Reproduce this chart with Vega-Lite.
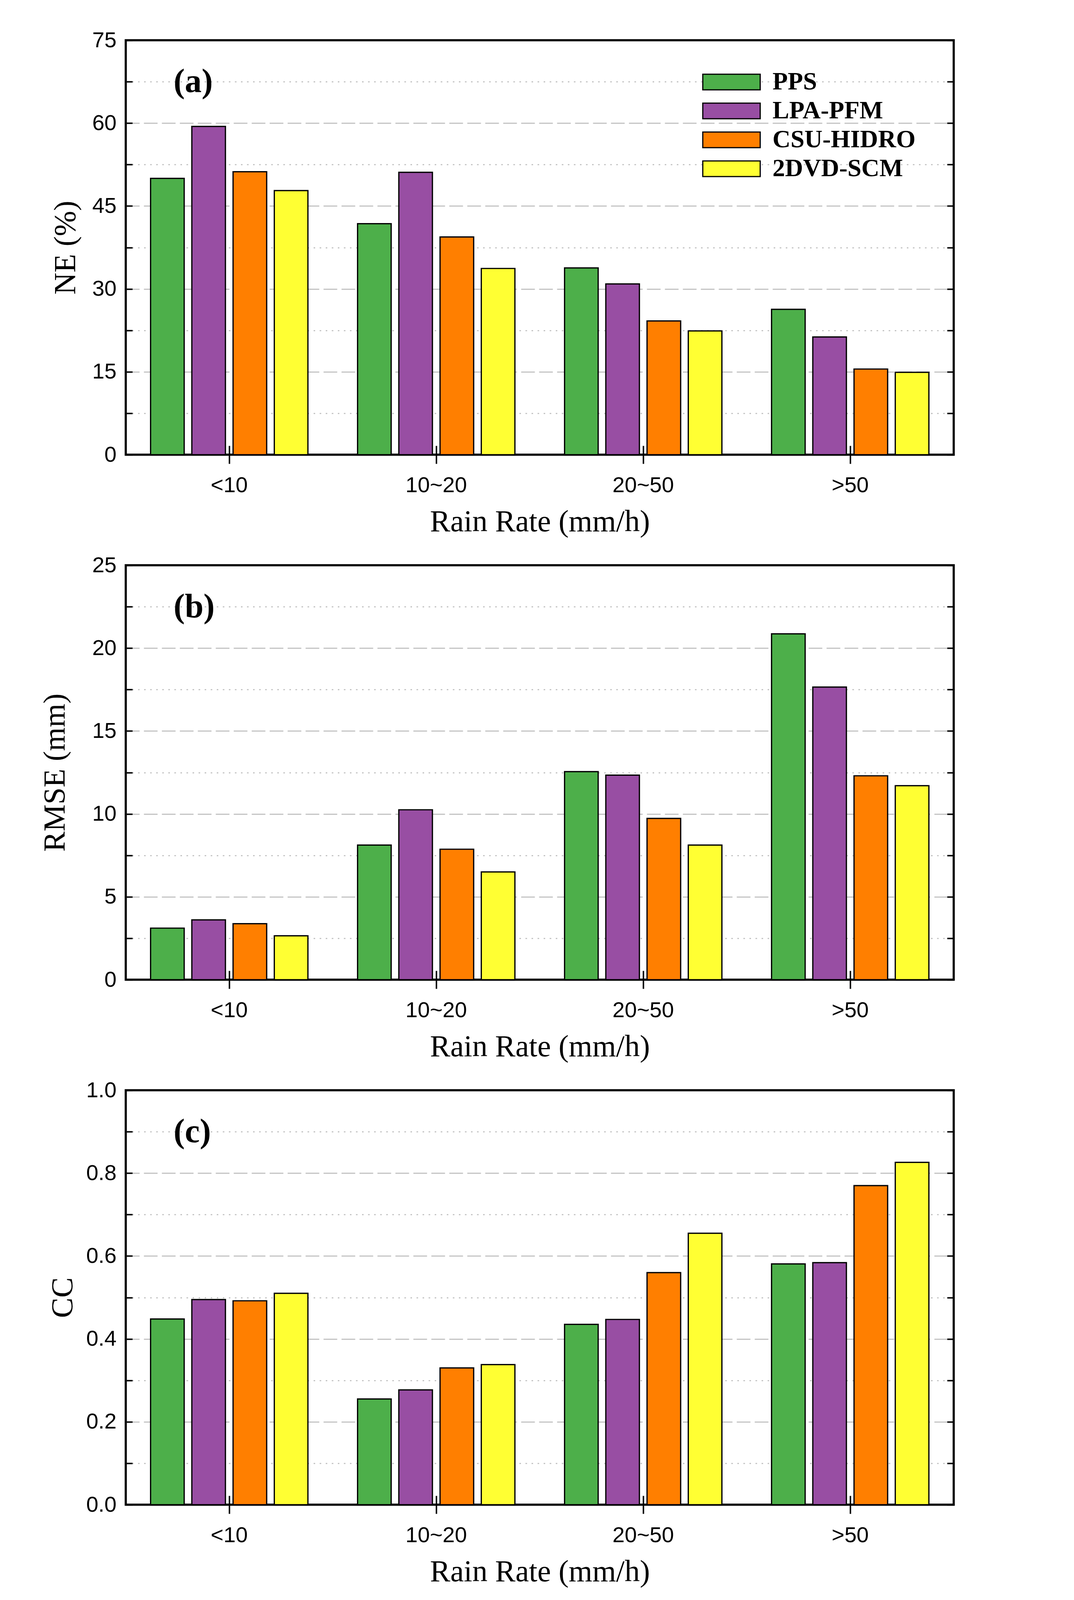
{
  "$schema": "https://vega.github.io/schema/vega-lite/v6.json",
  "padding": {"left": 99, "top": 72, "right": 20, "bottom": 20},
  "background": "white",
  "datasets": {
    "ne": [
      {"cat": "<10", "method": "PPS", "value": 50.0},
      {"cat": "<10", "method": "LPA-PFM", "value": 59.4},
      {"cat": "<10", "method": "CSU-HIDRO", "value": 51.2},
      {"cat": "<10", "method": "2DVD-SCM", "value": 47.8},
      {"cat": "10~20", "method": "PPS", "value": 41.8},
      {"cat": "10~20", "method": "LPA-PFM", "value": 51.1},
      {"cat": "10~20", "method": "CSU-HIDRO", "value": 39.4},
      {"cat": "10~20", "method": "2DVD-SCM", "value": 33.7},
      {"cat": "20~50", "method": "PPS", "value": 33.8},
      {"cat": "20~50", "method": "LPA-PFM", "value": 30.9},
      {"cat": "20~50", "method": "CSU-HIDRO", "value": 24.2},
      {"cat": "20~50", "method": "2DVD-SCM", "value": 22.4},
      {"cat": ">50", "method": "PPS", "value": 26.3},
      {"cat": ">50", "method": "LPA-PFM", "value": 21.3},
      {"cat": ">50", "method": "CSU-HIDRO", "value": 15.5},
      {"cat": ">50", "method": "2DVD-SCM", "value": 14.9}
    ],
    "rmse": [
      {"cat": "<10", "method": "PPS", "value": 3.11},
      {"cat": "<10", "method": "LPA-PFM", "value": 3.61},
      {"cat": "<10", "method": "CSU-HIDRO", "value": 3.38},
      {"cat": "<10", "method": "2DVD-SCM", "value": 2.65},
      {"cat": "10~20", "method": "PPS", "value": 8.12},
      {"cat": "10~20", "method": "LPA-PFM", "value": 10.25},
      {"cat": "10~20", "method": "CSU-HIDRO", "value": 7.87},
      {"cat": "10~20", "method": "2DVD-SCM", "value": 6.5},
      {"cat": "20~50", "method": "PPS", "value": 12.55},
      {"cat": "20~50", "method": "LPA-PFM", "value": 12.34},
      {"cat": "20~50", "method": "CSU-HIDRO", "value": 9.73},
      {"cat": "20~50", "method": "2DVD-SCM", "value": 8.12},
      {"cat": ">50", "method": "PPS", "value": 20.86},
      {"cat": ">50", "method": "LPA-PFM", "value": 17.65},
      {"cat": ">50", "method": "CSU-HIDRO", "value": 12.3},
      {"cat": ">50", "method": "2DVD-SCM", "value": 11.7}
    ],
    "cc": [
      {"cat": "<10", "method": "PPS", "value": 0.448},
      {"cat": "<10", "method": "LPA-PFM", "value": 0.495},
      {"cat": "<10", "method": "CSU-HIDRO", "value": 0.492},
      {"cat": "<10", "method": "2DVD-SCM", "value": 0.51},
      {"cat": "10~20", "method": "PPS", "value": 0.255},
      {"cat": "10~20", "method": "LPA-PFM", "value": 0.277},
      {"cat": "10~20", "method": "CSU-HIDRO", "value": 0.33},
      {"cat": "10~20", "method": "2DVD-SCM", "value": 0.338},
      {"cat": "20~50", "method": "PPS", "value": 0.435},
      {"cat": "20~50", "method": "LPA-PFM", "value": 0.447},
      {"cat": "20~50", "method": "CSU-HIDRO", "value": 0.56},
      {"cat": "20~50", "method": "2DVD-SCM", "value": 0.655},
      {"cat": ">50", "method": "PPS", "value": 0.581},
      {"cat": ">50", "method": "LPA-PFM", "value": 0.584},
      {"cat": ">50", "method": "CSU-HIDRO", "value": 0.77},
      {"cat": ">50", "method": "2DVD-SCM", "value": 0.826}
    ],
    "la": [{"label": "(a)"}],
    "lb": [{"label": "(b)"}],
    "lc": [{"label": "(c)"}]
  },
  "spacing": 38,
  "resolve": {"scale": {"y": "independent", "color": "shared", "x": "shared", "xOffset": "shared"}, "legend": {"color": "independent"}},
  "vconcat": [
    {
      "width": 2120, "height": 1061,
      "resolve": {"axis": {"x": "independent", "y": "independent"}},
      "layer": [
        {
          "data": {"name": "ne"},
          "mark": {"type": "bar", "stroke": "black", "strokeWidth": 3.2},
          "encoding": {
            "x": {"field": "cat", "type": "nominal", "sort": ["<10", "10~20", "20~50", ">50"], "scale": {"paddingInner": 0.2, "paddingOuter": 0.1},
                  "axis": {"title": "Rain Rate (mm/h)", "labelAngle": 0, "tickSize": 23, "labelPadding": 28, "titlePadding": 27, "grid": false}},
            "xOffset": {"field": "method", "type": "nominal", "sort": ["PPS", "LPA-PFM", "CSU-HIDRO", "2DVD-SCM"], "scale": {"paddingInner": 0.185, "paddingOuter": 0.1}},
            "y": {"field": "value", "type": "quantitative", "scale": {"domain": [0, 75], "nice": false},
                  "axis": {"title": "NE (%)", "values": [0, 7.5, 15, 22.5, 30, 37.5, 45, 52.5, 60, 67.5, 75], "format": "d",
                           "labelExpr": "datum.value % 15 === 0 ? datum.label : ''",
                           "tickSize": -17, "labelPadding": 41, "titlePadding": 28, "grid": true,
                           "gridOpacity": {"condition": {"test": "datum.value === 0 || datum.value === 75", "value": 0}, "value": 1},
                           "gridDash": {"condition": {"test": "datum.value % 15 === 0", "value": [35, 11]}, "value": [4, 11.5]}}},
            "color": {"field": "method", "type": "nominal", "sort": ["PPS", "LPA-PFM", "CSU-HIDRO", "2DVD-SCM"],
                      "scale": {"domain": ["PPS", "LPA-PFM", "CSU-HIDRO", "2DVD-SCM"], "range": ["#4DAF4A", "#984EA3", "#FF7F00", "#FFFF33"]},
                      "legend": {"title": null, "orient": "none", "legendX": 1519, "legendY": 75, "padding": 0,
                                 "symbolType": "M-3.675,-1H3.675V1H-3.675Z", "symbolSize": 1600, "symbolStrokeColor": "black", "symbolStrokeWidth": 3, "symbolOpacity": 1,
                                 "labelFont": "Liberation Serif", "labelFontWeight": "bold", "labelFontSize": 64, "labelColor": "black", "labelOffset": 73, "rowPadding": 10, "labelLimit": 1000}}
          }
        },
        {
          "data": {"name": "ne"},
          "mark": {"type": "bar", "opacity": 0},
          "encoding": {
            "x": {"field": "cat", "type": "nominal", "sort": ["<10", "10~20", "20~50", ">50"], "axis": {"orient": "bottom", "labels": false, "title": null, "tickSize": -23, "grid": false}},
            "xOffset": {"field": "method", "type": "nominal", "sort": ["PPS", "LPA-PFM", "CSU-HIDRO", "2DVD-SCM"]},
            "y": {"field": "value", "type": "quantitative", "axis": {"orient": "right", "labels": false, "title": null, "tickSize": -17, "grid": false, "values": [0, 7.5, 15, 22.5, 30, 37.5, 45, 52.5, 60, 67.5, 75]}}
          }
        },
        {
          "data": {"name": "la"},
          "mark": {"type": "text", "font": "Liberation Serif", "fontWeight": "bold", "fontSize": 86, "align": "left", "baseline": "middle", "dx": 16, "dy": 1, "color": "black"},
          "encoding": {
            "x": {"datum": "<10", "type": "nominal", "axis": null},
            "xOffset": {"datum": "PPS", "type": "nominal"},
            "y": {"datum": 67.5, "type": "quantitative", "axis": null},
            "text": {"field": "label"}
          }
        }
      ]
    },
    {
      "width": 2120, "height": 1061,
      "resolve": {"axis": {"x": "independent", "y": "independent"}},
      "layer": [
        {
          "data": {"name": "rmse"},
          "mark": {"type": "bar", "stroke": "black", "strokeWidth": 3.2},
          "encoding": {
            "x": {"field": "cat", "type": "nominal", "sort": ["<10", "10~20", "20~50", ">50"], "scale": {"paddingInner": 0.2, "paddingOuter": 0.1},
                  "axis": {"title": "Rain Rate (mm/h)", "labelAngle": 0, "tickSize": 23, "labelPadding": 28, "titlePadding": 27, "grid": false}},
            "xOffset": {"field": "method", "type": "nominal", "sort": ["PPS", "LPA-PFM", "CSU-HIDRO", "2DVD-SCM"], "scale": {"paddingInner": 0.185, "paddingOuter": 0.1}},
            "y": {"field": "value", "type": "quantitative", "scale": {"domain": [0, 25], "nice": false},
                  "axis": {"title": "RMSE (mm)", "values": [0, 2.5, 5, 7.5, 10, 12.5, 15, 17.5, 20, 22.5, 25], "format": "d",
                           "labelExpr": "datum.value % 5 === 0 ? datum.label : ''",
                           "tickSize": -17, "labelPadding": 41, "titlePadding": 55, "grid": true,
                           "gridOpacity": {"condition": {"test": "datum.value === 0 || datum.value === 25", "value": 0}, "value": 1},
                           "gridDash": {"condition": {"test": "datum.value % 5 === 0", "value": [35, 11]}, "value": [4, 11.5]}}},
            "color": {"field": "method", "type": "nominal", "sort": ["PPS", "LPA-PFM", "CSU-HIDRO", "2DVD-SCM"], "legend": null}
          }
        },
        {
          "data": {"name": "rmse"},
          "mark": {"type": "bar", "opacity": 0},
          "encoding": {
            "x": {"field": "cat", "type": "nominal", "sort": ["<10", "10~20", "20~50", ">50"], "axis": {"orient": "bottom", "labels": false, "title": null, "tickSize": -23, "grid": false}},
            "xOffset": {"field": "method", "type": "nominal", "sort": ["PPS", "LPA-PFM", "CSU-HIDRO", "2DVD-SCM"]},
            "y": {"field": "value", "type": "quantitative", "axis": {"orient": "right", "labels": false, "title": null, "tickSize": -17, "grid": false, "values": [0, 2.5, 5, 7.5, 10, 12.5, 15, 17.5, 20, 22.5, 25]}}
          }
        },
        {
          "data": {"name": "lb"},
          "mark": {"type": "text", "font": "Liberation Serif", "fontWeight": "bold", "fontSize": 86, "align": "left", "baseline": "middle", "dx": 16, "dy": 1, "color": "black"},
          "encoding": {
            "x": {"datum": "<10", "type": "nominal", "axis": null},
            "xOffset": {"datum": "PPS", "type": "nominal"},
            "y": {"datum": 22.5, "type": "quantitative", "axis": null},
            "text": {"field": "label"}
          }
        }
      ]
    },
    {
      "width": 2120, "height": 1061,
      "resolve": {"axis": {"x": "independent", "y": "independent"}},
      "layer": [
        {
          "data": {"name": "cc"},
          "mark": {"type": "bar", "stroke": "black", "strokeWidth": 3.2},
          "encoding": {
            "x": {"field": "cat", "type": "nominal", "sort": ["<10", "10~20", "20~50", ">50"], "scale": {"paddingInner": 0.2, "paddingOuter": 0.1},
                  "axis": {"title": "Rain Rate (mm/h)", "labelAngle": 0, "tickSize": 23, "labelPadding": 28, "titlePadding": 27, "grid": false}},
            "xOffset": {"field": "method", "type": "nominal", "sort": ["PPS", "LPA-PFM", "CSU-HIDRO", "2DVD-SCM"], "scale": {"paddingInner": 0.185, "paddingOuter": 0.1}},
            "y": {"field": "value", "type": "quantitative", "scale": {"domain": [0, 1], "nice": false},
                  "axis": {"title": "CC", "values": [0, 0.1, 0.2, 0.3, 0.4, 0.5, 0.6, 0.7, 0.8, 0.9, 1.0], "format": ".1f",
                           "labelExpr": "round(datum.value * 10) % 2 === 0 ? datum.label : ''",
                           "tickSize": -17, "labelPadding": 41, "titlePadding": 20, "grid": true,
                           "gridOpacity": {"condition": {"test": "datum.value === 0 || datum.value === 1", "value": 0}, "value": 1},
                           "gridDash": {"condition": {"test": "round(datum.value * 10) % 2 === 0", "value": [35, 11]}, "value": [4, 11.5]}}},
            "color": {"field": "method", "type": "nominal", "sort": ["PPS", "LPA-PFM", "CSU-HIDRO", "2DVD-SCM"], "legend": null}
          }
        },
        {
          "data": {"name": "cc"},
          "mark": {"type": "bar", "opacity": 0},
          "encoding": {
            "x": {"field": "cat", "type": "nominal", "sort": ["<10", "10~20", "20~50", ">50"], "axis": {"orient": "bottom", "labels": false, "title": null, "tickSize": -23, "grid": false}},
            "xOffset": {"field": "method", "type": "nominal", "sort": ["PPS", "LPA-PFM", "CSU-HIDRO", "2DVD-SCM"]},
            "y": {"field": "value", "type": "quantitative", "axis": {"orient": "right", "labels": false, "title": null, "tickSize": -17, "grid": false, "values": [0, 0.1, 0.2, 0.3, 0.4, 0.5, 0.6, 0.7, 0.8, 0.9, 1.0]}}
          }
        },
        {
          "data": {"name": "lc"},
          "mark": {"type": "text", "font": "Liberation Serif", "fontWeight": "bold", "fontSize": 86, "align": "left", "baseline": "middle", "dx": 16, "dy": 1, "color": "black"},
          "encoding": {
            "x": {"datum": "<10", "type": "nominal", "axis": null},
            "xOffset": {"datum": "PPS", "type": "nominal"},
            "y": {"datum": 0.9, "type": "quantitative", "axis": null},
            "text": {"field": "label"}
          }
        }
      ]
    }
  ],
  "config": {
    "view": {"stroke": "black", "strokeWidth": 5.5},
    "font": "Liberation Sans",
    "axis": {
      "domain": false,
      "labelFont": "Liberation Sans", "labelFontSize": 56, "labelColor": "black",
      "titleFont": "Liberation Serif", "titleFontSize": 78, "titleFontWeight": "normal", "titleColor": "black",
      "tickColor": "black", "tickWidth": 3.7,
      "gridColor": "#c4c4c4", "gridWidth": 3.2, "gridOpacity": 1
    }
  }
}
